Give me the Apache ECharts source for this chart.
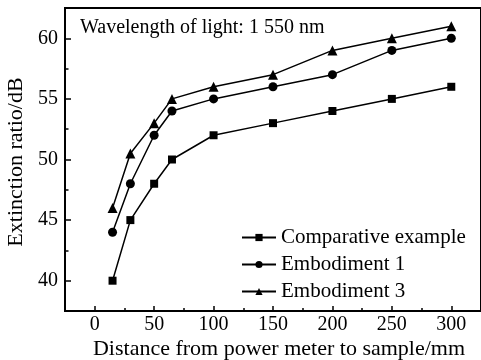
<!DOCTYPE html>
<html>
<head>
<meta charset="utf-8">
<script src="https://cdn.jsdelivr.net/npm/echarts@6/dist/echarts.min.js"></script>
<style>
html,body{margin:0;padding:0;background:#fff;}
#chart{width:481px;height:360px;}
</style>
</head>
<body>
<div id="chart"></div>
<script>
const distances = [15, 30, 50, 65, 100, 150, 200, 250, 300];
const comparative = [40, 45, 48, 50, 52, 53, 54, 55, 56];
const embodiment1 = [44, 48, 52, 54, 55, 56, 57, 59, 60];
const embodiment3 = [46, 50.5, 53, 55, 56, 57, 59, 60, 61];
const seriesNames = ['Comparative example', 'Embodiment 1', 'Embodiment 3'];
const xMajorTicks = [0, 50, 100, 150, 200, 250, 300];
const yMajorTicks = [40, 45, 50, 55, 60];
const xTitle = 'Distance from power meter to sample/mm';
const yTitle = 'Extinction ratio/dB';
const note = 'Wavelength of light: 1 550 nm';

const FONT = '"Liberation Serif", "Times New Roman", serif';
const pairs = (ys) => distances.map((x, i) => [x, ys[i]]);

const chart = echarts.init(document.getElementById('chart'), null, {renderer: 'canvas'});

const axisLine = {show: true, onZero: false, lineStyle: {color: '#000', width: 2}};
const labelStyle = {color: '#000', fontFamily: FONT, fontSize: 20};

const mkSeries = (name, ys, symbol, size) => ({
  name: name, type: 'line', data: pairs(ys), xAxisIndex: 0, yAxisIndex: 0,
  symbol: symbol, symbolSize: size, showAllSymbol: true,
  lineStyle: {color: '#000', width: 1.5},
  itemStyle: {color: '#000', borderColor: '#000', borderWidth: 0},
  emphasis: {disabled: true}, animation: false
});

chart.setOption({
  animation: false,
  backgroundColor: '#fff',
  grid: {left: 65, top: 8, width: 420, height: 303, show: true, borderColor: '#000', borderWidth: 2, backgroundColor: 'transparent'},
  xAxis: [
    {type: 'value', min: -25, max: 325, interval: 25, position: 'bottom',
     axisLine: axisLine,
     axisTick: {show: true, inside: true, length: 3, lineStyle: {color: '#000', width: 1.5}},
     axisLabel: {show: false},
     splitLine: {show: false}},
    {type: 'value', min: -25, max: 325, interval: 25, position: 'bottom',
     axisLine: axisLine,
     axisTick: {show: true, inside: true, length: 5, customValues: xMajorTicks, lineStyle: {color: '#000', width: 1.5}},
     axisLabel: Object.assign({show: true, margin: 4, customValues: xMajorTicks}, labelStyle),
     splitLine: {show: false}}
  ],
  yAxis: [
    {type: 'value', min: 37.5, max: 62.5, interval: 2.5, position: 'left',
     axisLine: axisLine,
     axisTick: {show: true, inside: true, length: 3.5, lineStyle: {color: '#000', width: 1.5}},
     axisLabel: {show: false},
     splitLine: {show: false}},
    {type: 'value', min: 37.5, max: 62.5, interval: 2.5, position: 'left',
     axisLine: axisLine,
     axisTick: {show: true, inside: true, length: 6, customValues: yMajorTicks, lineStyle: {color: '#000', width: 1.5}},
     axisLabel: Object.assign({show: true, margin: 7, customValues: yMajorTicks}, labelStyle),
     splitLine: {show: false}}
  ],
  legend: {
    orient: 'vertical', left: 236, top: 222,
    itemWidth: 34, itemHeight: 9, itemGap: 6,
    data: seriesNames,
    textStyle: {color: '#000', fontFamily: FONT, fontSize: 21, padding: [0, 0, 0, 0]},
    selectedMode: false
  },
  graphic: [
    {type: 'text', left: 80, top: 18, style: {text: note, fill: '#000', font: '20px ' + FONT}},
    {type: 'text', x: 279, y: 349, style: {text: xTitle, fill: '#000', font: '22px ' + FONT, align: 'center', verticalAlign: 'middle'}},
    {type: 'text', x: 16, y: 162, rotation: Math.PI / 2, style: {text: yTitle, fill: '#000', font: '22px ' + FONT, align: 'center', verticalAlign: 'middle'}}
  ],
  series: [
    mkSeries(seriesNames[0], comparative, 'rect', 8),
    mkSeries(seriesNames[1], embodiment1, 'circle', 9),
    mkSeries(seriesNames[2], embodiment3, 'triangle', 10)
  ]
});
</script>
</body>
</html>
